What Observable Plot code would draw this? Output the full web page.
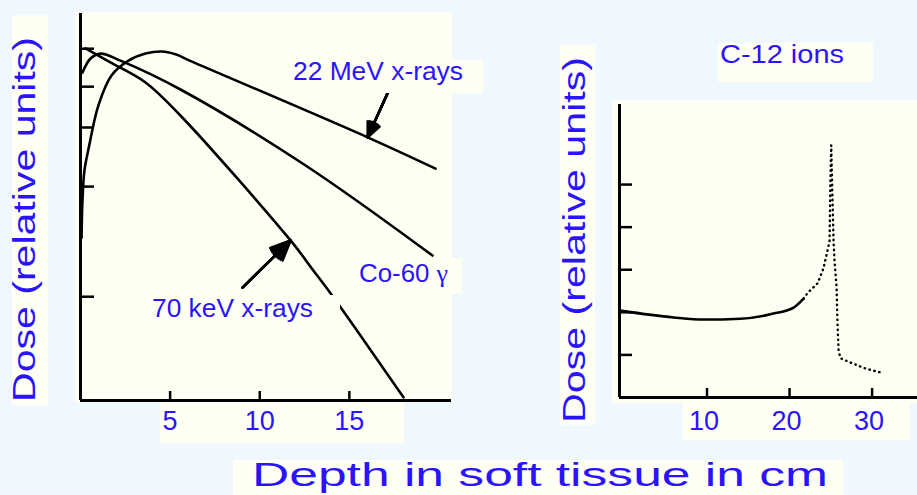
<!DOCTYPE html>
<html><head><meta charset="utf-8">
<script src="https://cdn.jsdelivr.net/npm/d3@7"></script>
<script src="https://cdn.jsdelivr.net/npm/@observablehq/plot@0.6"></script>
<style>
html,body{margin:0;padding:0;background:#f0f8ff;}
#root{position:relative;width:917px;height:495px;overflow:hidden;background:#f0f8ff;font-family:"Liberation Sans",Arial,sans-serif;}
#root svg{position:absolute;}
</style></head><body><div id="root"></div>
<script>
// ---------- data: left panel (photons) ----------
const mev22Depth = [0.06, 0.11, 0.22, 0.45, 1.0, 1.73, 2.68, 3.63, 4.52, 5.30, 6.19, 16.02, 19.81];
const mev22Dose  = [46.3, 56.9, 65.4, 71.6, 83.9, 92.4, 96.6, 98.6, 99.2, 98.4, 96.4, 74.8, 65.9];
const co60Depth  = [0.11, 0.56, 1.12, 2.23, 5.58, 12.56, 19.64];
const co60Dose   = [93.2, 97.2, 98.6, 96.6, 88.4, 66.8, 41.2];
const kev70Depth = [0.28, 1.67, 3.63, 5.52, 11.72, 13.0, 14.12, 18.02];
const kev70Dose  = [100.1, 96.1, 90.4, 81.3, 45.5, 36.9, 29.3, 0.9];
const leftXTicks = [5, 10, 15];
const leftYTicks = [29.5, 60.8, 77.6, 89.2, 100];
const leftXDomain = [0, 20.7];
const leftYDomain = [0, 110];
// annotation arrows
const arrowLabels = ["22 MeV x-rays", "70 keV x-rays"];
const arrowTail = [[17.13, 87.3], [9.04, 32.1]];
const arrowTip  = [[16.02, 74.8], [11.72, 45.5]];

// ---------- data: right panel (C-12 ions) ----------
const c12SolidDepth = [-0.5, 5.94, 9.58, 14.06, 18.06, 20.5, 21.7];
const c12SolidDose  = [2.04, 1.88, 1.83, 1.85, 1.97, 2.11, 2.32];
const c12PeakDepth  = [21.7, 22.2, 23.4, 24.1, 24.6, 24.85, 24.95, 25.05, 25.15, 25.33, 25.45, 25.7, 25.8, 25.94, 26.18, 27.4, 29.2, 31.0];
const c12PeakDose   = [2.32, 2.46, 2.68, 3.03, 3.45, 3.68, 5.1, 5.92, 5.1, 3.68, 3.2, 2.58, 1.81, 1.10, 0.92, 0.82, 0.68, 0.59];
const rightXTicks = [10, 20, 30];
const rightYTicks = [1, 2, 3, 4, 5];
const rightXDomain = [-0.6, 35.5];
const rightYDomain = [0, 6.88];

// ---------- styling ----------
const BLUE = "#2a14ff";
const CREAM = "#fffff3";
const FONT = "Liberation Sans, Arial, sans-serif";
const root = document.getElementById("root");
const rows = (xs, ys) => xs.map((d, i) => ({depth: d, dose: ys[i]}));

// background panels
const bg = d3.select(root).append("svg").attr("width", 917).attr("height", 495).style("left", "0px").style("top", "0px");
const panels = [
  [75, 12, 377, 390], [160, 398, 244, 45], [12, 15, 36, 390],
  [612, 100, 305, 303], [683, 400, 227, 40], [560, 45, 35, 380],
  [718, 43, 155, 39], [233, 460, 610, 35]
];
bg.selectAll("rect").data(panels).join("rect")
  .attr("x", d => d[0]).attr("y", d => d[1]).attr("width", d => d[2]).attr("height", d => d[3])
  .attr("fill", CREAM);

const plotStyle = {background: "transparent", fontFamily: FONT, overflow: "visible"};
const arrowRows = arrowLabels.map((l, i) => ({label: l, x1: arrowTail[i][0], y1: arrowTail[i][1], x2: arrowTip[i][0], y2: arrowTip[i][1]}));
// several head angles stacked give a filled-looking arrowhead
const arrowMarks = [48, 36, 24, 12].map(a => Plot.arrow(arrowRows,
  {x1: "x1", y1: "y1", x2: "x2", y2: "y2", strokeWidth: 2.5, headLength: 13, headAngle: a}));

const left = Plot.plot({
  width: 377, height: 433,
  marginLeft: 5, marginRight: 1, marginTop: 1, marginBottom: 45,
  x: {domain: leftXDomain}, y: {domain: leftYDomain},
  style: plotStyle,
  marks: [
    Plot.ruleX([leftXDomain[0]], {strokeWidth: 3}),
    Plot.ruleY([leftYDomain[0]], {strokeWidth: 3}),
    Plot.axisX({ticks: leftXTicks, tickSize: -9, strokeWidth: 2.5, fill: "none", label: null}),
    Plot.axisX({ticks: leftXTicks, tickSize: 0, tickPadding: 10, fill: BLUE, fontSize: 27, label: null}),
    Plot.axisY({ticks: leftYTicks, tickSize: -14, strokeWidth: 2.5, fill: "none", label: null}),
    Plot.line(rows(mev22Depth, mev22Dose), {x: "depth", y: "dose", curve: "catmull-rom", strokeWidth: 2.6}),
    Plot.line(rows(co60Depth, co60Dose), {x: "depth", y: "dose", curve: "catmull-rom", strokeWidth: 2.6}),
    Plot.line(rows(kev70Depth, kev70Dose), {x: "depth", y: "dose", curve: "catmull-rom", strokeWidth: 2.6}),
    ...arrowMarks
  ]
});
left.style.left = "75px"; left.style.top = "12px";
root.appendChild(left);

const right = Plot.plot({
  width: 312, height: 350,
  marginLeft: 14, marginRight: 0, marginTop: 9, marginBottom: 48,
  x: {domain: rightXDomain}, y: {domain: rightYDomain},
  style: plotStyle,
  marks: [
    Plot.ruleX([rightXDomain[0]], {strokeWidth: 3}),
    Plot.ruleY([rightYDomain[0]], {strokeWidth: 3}),
    Plot.axisX({ticks: rightXTicks, tickSize: -9, strokeWidth: 2.5, fill: "none", label: null}),
    Plot.axisX({ticks: rightXTicks, tickSize: 0, tickPadding: 13, dx: -3, fill: BLUE, fontSize: 27, label: null}),
    Plot.axisY({ticks: rightYTicks, tickSize: -13, strokeWidth: 2.5, fill: "none", label: null}),
    Plot.line(rows(c12SolidDepth, c12SolidDose), {x: "depth", y: "dose", curve: "monotone-x", strokeWidth: 2.6}),
    Plot.line(rows(c12PeakDepth, c12PeakDose), {x: "depth", y: "dose", curve: "linear", strokeWidth: 2.4, strokeDasharray: "0.5,4.5", strokeLinecap: "round"})
  ]
});
right.style.left = "605px"; right.style.top = "95px";
root.appendChild(right);

// overlay: label boxes and texts
const ov = d3.select(root).append("svg").attr("width", 917).attr("height", 495).style("left", "0px").style("top", "0px").style("pointer-events", "none");
const boxes = [[288, 60, 195, 33], [350, 258, 112, 36], [145, 295, 195, 31]];
ov.selectAll("rect").data(boxes).join("rect")
  .attr("x", d => d[0]).attr("y", d => d[1]).attr("width", d => d[2]).attr("height", d => d[3])
  .attr("fill", CREAM);
// [text, x, baselineY, fontSize, length, rotate, suffix]
const labels = [
  ["22 MeV x-rays", 293, 80, 25, 170, 0, ""],
  ["Co-60 ", 359, 282, 26, 89, 0, "\u03b3"],
  ["70 keV x-rays", 152, 317, 26, 161, 0, ""],
  ["C-12 ions", 720, 63, 25, 124, 0, ""],
  ["Depth in soft tissue in cm", 252, 486, 34, 576, 0, ""],
  ["Dose (relative units)", 35, 402, 32, 365, -90, ""],
  ["Dose (relative units)", 585, 423, 31, 366, -90, ""]
];
const t = ov.selectAll("text").data(labels).join("text")
  .attr("transform", d => `translate(${d[1]},${d[2]}) rotate(${d[5]})`)
  .attr("font-family", FONT).attr("font-size", d => d[3]).attr("fill", BLUE)
  .attr("textLength", d => d[4]).attr("lengthAdjust", "spacingAndGlyphs");
t.append("tspan").text(d => d[0]);
t.filter(d => d[6]).append("tspan").attr("font-family", "Liberation Serif, DejaVu Serif, serif").text(d => d[6]);
</script>
</body></html>
